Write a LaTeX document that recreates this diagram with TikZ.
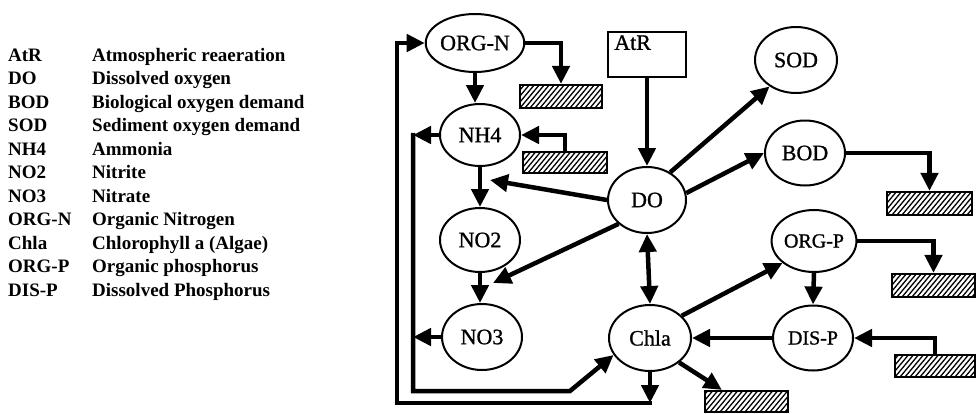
\documentclass[tikz,border=0pt]{standalone}
\usepackage{fontspec}
\setmainfont{Liberation Serif}
\newfontfamily\heavy{Liberation Serif}[FakeBold=1]
\usetikzlibrary{arrows.meta,shapes.geometric}
\begin{document}
\begin{tikzpicture}[x=1pt,y=-1pt,
  ell/.style={ellipse, draw, line width=2pt, minimum width=80pt, minimum height=64pt, inner sep=0pt, font=\heavy\fontsize{22}{22}\selectfont},
  ells/.style={ell, font=\heavy\fontsize{20}{20}\selectfont},
  arr/.style={line width=4.5pt, -{Triangle[length=18pt,width=17pt]}},
  dbl/.style={line width=4.5pt, {Triangle[length=18pt,width=17pt]}-{Triangle[length=18pt,width=17pt]}},
  hatch/.style={draw, line width=2.2pt, rectangle, inner sep=0pt,
    path picture={\foreach \i in {-30,-25,...,100}{\draw[line width=1.3pt] ([xshift=\i pt]path picture bounding box.south west) -- ++(20pt,24pt);}}},
  leg/.style={anchor=base west, inner sep=0pt, font=\bfseries\fontsize{19}{19}\selectfont}
]
\useasboundingbox (0,0) rectangle (976,413);

% legend
\foreach \a/\d [count=\k from 0] in {AtR/Atmospheric reaeration, DO/Dissolved oxygen, BOD/Biological oxygen demand, SOD/Sediment oxygen demand, NH4/Ammonia, NO2/Nitrite, NO3/Nitrate, ORG-N/Organic Nitrogen, Chla/Chlorophyll a (Algae), ORG-P/Organic phosphorus, DIS-P/Dissolved Phosphorus}{
  \node[leg] (la\k) at (8,{61+23.5*\k}) {\a};
  \node[leg] (ld\k) at (92,{61+23.5*\k}) {\d};
}

% nodes
\node[ell, minimum height=58pt] (ORGN) at (475,43) {ORG-N};
\node[ell, minimum height=62pt] (NH4) at (480,135) {NH4};
\node[ell] (NO2) at (480,240) {NO2};
\node[ell, minimum height=66pt] (NO3) at (482,337) {NO3};
\node[draw, line width=1.8pt, minimum width=78pt, minimum height=45pt, inner sep=0pt,
  label={[anchor=north west, xshift=7pt, yshift=-4pt, inner sep=0pt, font=\heavy\fontsize{22}{22}\selectfont]north west:AtR}] (AtR) at (647,54.5) {};
\node[ell, minimum width=78pt, minimum height=66pt] (DO) at (647,200) {DO};
\node[ell, minimum width=82pt, minimum height=66pt] (SOD) at (796,60) {SOD};
\node[ell, minimum height=65pt] (BOD) at (805,153) {BOD};
\node[ell, minimum width=82pt, minimum height=66pt] (Chla) at (650,338) {Chla};
\node[ells, minimum width=82pt, minimum height=62pt] (ORGP) at (814,241) {ORG-P};
\node[ells, minimum height=65pt] (DISP) at (813,338) {DIS-P};

% hatched boxes
\node[hatch, minimum width=82pt, minimum height=23pt] (h1) at (561,96.5) {};
\node[hatch, minimum width=84pt, minimum height=21pt] (h2) at (565,162.5) {};
\node[hatch, minimum width=85pt, minimum height=23pt] (h3) at (929.5,203.5) {};
\node[hatch, minimum width=83pt, minimum height=23pt] (h4) at (933.5,285.5) {};
\node[hatch, minimum width=80pt, minimum height=22pt] (h5) at (935,366) {};
\node[hatch, minimum width=83pt, minimum height=21pt] (h6) at (746.5,401.5) {};

% helper coordinates
\coordinate (inT) at (413,135);
\coordinate (inB) at (413,391);
\coordinate (inR) at (570,391);
\coordinate (oBR) at (650,403);
\coordinate (oBL) at (397,403);
\coordinate (oTL) at (397,43);
\coordinate (j1) at (490,180);
\coordinate (j2) at (493,283);

% connectors
\draw[arr] (ORGN.east) -| (h1.north);
\draw[arr] (ORGN.south) -- (ORGN.south |- NH4.north);
\draw[arr] (h2.north) |- (NH4.east);
\draw[arr] (NH4.west) -- (inT);
\draw[arr] ([yshift=2.25pt]inT) -- (inB) -- (inR) -- (Chla.205);
\draw[arr] (NO3.west) -- (NO3.west -| inT);
\draw[arr] (Chla.south) -- (oBR);
\draw[arr] ([xshift=2.25pt]oBR) -- (oBL) -- (oTL) -- (ORGN.west);
\draw[arr] (NH4.south) -- (NO2.north);
\draw[arr] (NO2.south) -- (NO3.north -| NO2.south);
\draw[arr] (DO.west) -- (j1);
\draw[arr] (DO.220) -- (j2);
\draw[arr] (AtR.south) -- (DO.north);
\draw[arr] (DO.50) -- (SOD.225);
\draw[arr] (DO.10) -- (BOD.west);
\draw[arr] (BOD.east) -| (h3.north);
\draw[dbl] (DO.south) -- (Chla.north);
\draw[arr] (Chla.35) -- (ORGP.215);
\draw[arr] (ORGP.east) -| (h4.north);
\draw[arr] (ORGP.south) -- (DISP.north);
\draw[arr] (DISP.west) -- (Chla.east);
\draw[arr] (h5.north) |- (DISP.east);
\draw[arr] (Chla.-40) -- ([xshift=18pt]h6.north west);
\end{tikzpicture}
\end{document}
